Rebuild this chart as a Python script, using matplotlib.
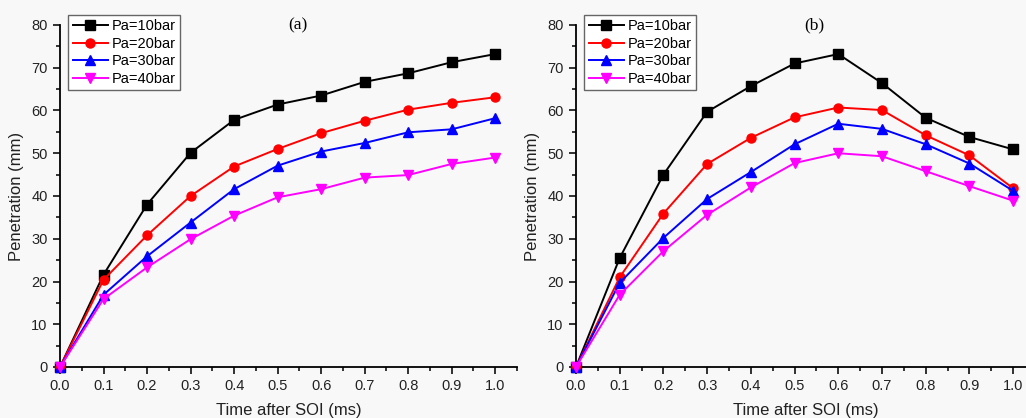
import matplotlib
matplotlib.use("Agg")
import matplotlib.pyplot as plt
from matplotlib.ticker import MultipleLocator

plt.rcParams['font.family'] = ['Liberation Sans', 'DejaVu Sans']

time_ms = [0.0, 0.1, 0.2, 0.3, 0.4, 0.5, 0.6, 0.7, 0.8, 0.9, 1.0]
labels = ["Pa=10bar", "Pa=20bar", "Pa=30bar", "Pa=40bar"]

a_10 = [0, 21.6, 38.0, 50.1, 57.8, 61.4, 63.5, 66.7, 68.7, 71.3, 73.2]
a_20 = [0, 20.4, 30.8, 40.0, 46.9, 51.0, 54.7, 57.6, 60.2, 61.8, 63.1]
a_30 = [0, 16.9, 25.9, 33.8, 41.6, 47.1, 50.4, 52.4, 54.9, 55.6, 58.2]
a_40 = [0, 15.9, 23.3, 29.9, 35.4, 39.7, 41.6, 44.3, 44.9, 47.5, 49.0]

b_10 = [0, 25.5, 45.0, 59.7, 65.7, 71.0, 73.2, 66.4, 58.3, 53.8, 50.9]
b_20 = [0, 21.0, 35.9, 47.5, 53.6, 58.4, 60.7, 60.1, 54.2, 49.5, 41.8]
b_30 = [0, 19.7, 30.2, 39.3, 45.6, 52.1, 56.9, 55.7, 52.1, 47.6, 41.2]
b_40 = [0, 16.9, 27.1, 35.6, 42.0, 47.7, 50.0, 49.3, 45.8, 42.3, 38.9]

colors = ["#000000", "#ff0000", "#0000ff", "#ff00ff"]
markers = ["s", "o", "^", "v"]

fig = plt.figure(figsize=(10.26, 4.18), dpi=100, facecolor="#f8f8f8")
ax_a = fig.add_axes([60/1026, 51/418, 457/1026, 342/418])
ax_b = fig.add_axes([576/1026, 51/418, 459/1026, 342/418])

for ax, series, tag, tagx in [(ax_a, [a_10, a_20, a_30, a_40], "(a)", 0.52),
                              (ax_b, [b_10, b_20, b_30, b_40], "(b)", 0.52)]:
    ax.set_facecolor("#f8f8f8")
    for vals, c, m, lab in zip(series, colors, markers, labels):
        ax.plot(time_ms, vals, color=c, marker=m, markersize=6.5, linewidth=1.4,
                label=lab, clip_on=False, zorder=3)
    ax.set_xlim(0, 1.05)
    ax.set_ylim(0, 80)
    ax.xaxis.set_major_locator(MultipleLocator(0.1))
    ax.xaxis.set_minor_locator(MultipleLocator(0.05))
    ax.yaxis.set_major_locator(MultipleLocator(10))
    ax.yaxis.set_minor_locator(MultipleLocator(5))
    ax.xaxis.set_major_formatter(matplotlib.ticker.FormatStrFormatter('%.1f'))
    ax.spines['top'].set_visible(False)
    ax.spines['right'].set_visible(False)
    for s in ['left', 'bottom']:
        ax.spines[s].set_linewidth(1.3)
    ax.tick_params(which='major', direction='out', length=5, width=1.3, labelsize=10.5,
                   colors='#222222', pad=4)
    ax.tick_params(which='minor', direction='out', length=3, width=1.1)
    ax.set_xlabel("Time after SOI (ms)", fontsize=12, labelpad=7, color='#222222')
    ax.set_ylabel("Penetration (mm)", fontsize=12, labelpad=5, color='#222222')
    ax.text(tagx, 1.0, tag, transform=ax.transAxes, ha='center', va='center',
            fontsize=12.5, family=['Liberation Serif', 'DejaVu Serif'])
    leg = ax.legend(loc='upper left', bbox_to_anchor=(0.018, 1.03), borderaxespad=0,
                    fontsize=10.5, handlelength=2.4, labelspacing=0.25, handletextpad=0.3,
                    borderpad=0.3, fancybox=False, framealpha=1, edgecolor='#666666',
                    facecolor='white')
    leg.get_frame().set_linewidth(1.0)

fig.savefig("out.png", dpi=100, facecolor=fig.get_facecolor())
